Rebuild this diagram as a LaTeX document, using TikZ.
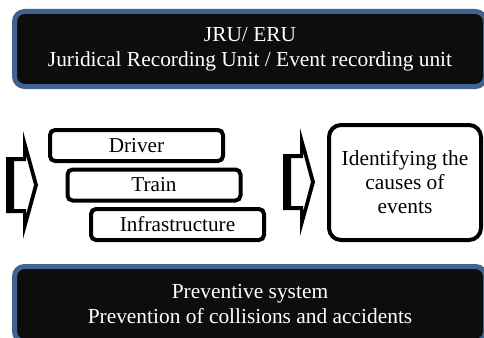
\documentclass[tikz,border=0pt]{standalone}
\usepackage{fontspec}
\setmainfont{Liberation Serif}
\definecolor{bannerblue}{HTML}{41648F}
\definecolor{bannerblack}{HTML}{0D0D0D}

\begin{document}
\begin{tikzpicture}[
  x=1pt, y=-1pt,
  banner/.style={draw=bannerblue, line width=5pt, fill=bannerblack, rounded corners=10pt,
                 text=white, align=center, inner sep=0pt, minimum width=471pt,
                 minimum height=75pt, font=\fontsize{21.4}{25}\selectfont},
  factor/.style={draw, line width=4pt, rounded corners=5pt, inner sep=0pt,
                 minimum width=173pt, minimum height=31pt, font=\fontsize{21.2}{24}\selectfont},
  result/.style={draw, line width=4pt, rounded corners=12pt, align=center, inner sep=0pt,
                 minimum width=152pt, minimum height=115pt, font=\fontsize{21.4}{24}\selectfont}
]
\clip (0,0) rectangle (484,337);

% recording unit and preventive system
\node[banner] (jru) at (250,49) {JRU/ ERU\\Juridical Recording Unit / Event recording unit};
\node[banner] (prev) at (250,304) {Preventive system\\Prevention of collisions and accidents};

% sources of events
\node[factor] (driver) at (136.5,145.5) {Driver};
\node[factor] (train) at (154,185) {Train};
\node[factor] (infra) at (177.5,224.5) {Infrastructure};

\node[result] (causes) at (405,182.5) {Identifying the\\causes of\\events};

% block arrows
\foreach \ax/\ay in {6/185, 283/182}
  \fill[even odd rule, shift={(\ax,\ay)}]
    (0,-28) -- (17,-28) -- (17,-54) -- (32,0) -- (17,54) -- (17,28) -- (0,28) -- cycle
    (8,-24) -- (20,-24) -- (20,-30) -- (28,0) -- (20,30) -- (20,24) -- (8,24) -- cycle;
\end{tikzpicture}
\end{document}
